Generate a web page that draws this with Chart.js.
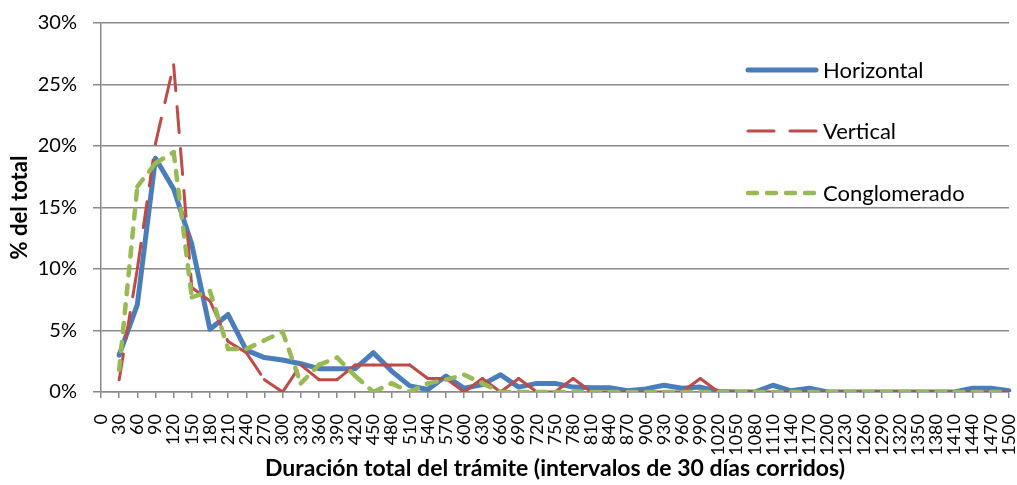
<!DOCTYPE html>
<html lang="es">
<head>
  <meta charset="UTF-8">
  <title>Duración total del trámite</title>
  <style>
    body {
      margin: 0;
      padding: 0;
      background-color: #fff;
    }
    .chart-container {
      position: relative;
      width: 1017px;
      height: 485px;
    }
  </style>
  <script src="https://cdn.jsdelivr.net/npm/chart.js"></script>
</head>
<body>
  <div class="chart-container">
    <canvas id="duration-chart"></canvas>
  </div>

  <script>
    // Chart data (% del total por intervalo de 30 días)
    const categories = ['0', '30', '60', '90', '120', '150', '180', '210', '240', '270', '300', '330', '360', '390', '420', '450', '480', '510', '540', '570', '600', '630', '660', '690', '720', '750', '780', '810', '840', '870', '900', '930', '960', '990', '1020', '1050', '1080', '1110', '1140', '1170', '1200', '1230', '1260', '1290', '1320', '1350', '1380', '1410', '1440', '1470', '1500'];

    const horizontal = [null, 3.0, 7.1, 19.0, 16.5, 12.0, 5.1, 6.3, 3.4, 2.8, 2.6, 2.3, 1.9, 1.9, 1.9, 3.2, 1.7, 0.5, 0.2, 1.3, 0.3, 0.6, 1.4, 0.4, 0.7, 0.7, 0.4, 0.35, 0.35, 0.1, 0.25, 0.55, 0.3, 0.4, 0.05, 0, 0, 0.55, 0.1, 0.3, 0, 0, 0, 0, 0, 0, 0, 0, 0.3, 0.3, 0.1];
    const vertical = [null, 1.0, 10.0, 20.2, 26.6, 8.5, 7.4, 4.1, 3.2, 1.0, 0, 2.2, 1.0, 1.0, 2.2, 2.2, 2.2, 2.2, 1.1, 1.1, 0, 1.1, 0, 1.1, 0, 0, 1.1, 0, 0, 0, 0, 0, 0, 1.1, 0, 0, 0, 0, 0, 0, 0, 0, 0, 0, 0, 0, 0, 0, 0, 0, 0];
    const conglomerado = [null, 1.8, 16.7, 18.6, 19.5, 7.7, 8.2, 3.5, 3.5, 4.2, 4.9, 0.7, 2.2, 2.8, 1.3, 0, 0.7, 0, 0.7, 1.0, 1.4, 0.7, 0, 0, 0, 0, 0, 0, 0, 0, 0, 0, 0, 0, 0, 0, 0, 0, 0, 0, 0, 0, 0, 0, 0, 0, 0, 0, 0, 0, 0];

    const yTicks = [0, 5, 10, 15, 20, 25, 30];

    const gridColor = '#8a8a8a';
    Chart.defaults.font.family = 'Lato, "Open Sans", sans-serif';
    Chart.defaults.color = '#000';

    // Excel restarts the dash pattern on every segment
    const restartDash = {
      borderDashOffset: ctx => (ctx.p0DataIndex % 2) * 0.001
    };

    // Legend drawn inside the plot, like the original
    const insideLegend = {
      id: 'insideLegend',
      afterDatasetsDraw(chart) {
        const ctx = chart.ctx;
        const rows = [70, 131, 193];
        chart.data.datasets.forEach((ds, i) => {
          const y = rows[i];
          ctx.save();
          ctx.strokeStyle = ds.borderColor;
          ctx.lineWidth = ds.borderWidth;
          ctx.lineCap = ds.borderCapStyle || 'round';
          ctx.setLineDash(ds.borderDash || []);
          ctx.beginPath();
          ctx.moveTo(748, y);
          ctx.lineTo(816, y);
          ctx.stroke();
          ctx.setLineDash([]);
          ctx.fillStyle = '#000';
          ctx.font = '22px Lato, "Open Sans", sans-serif';
          ctx.textBaseline = 'middle';
          ctx.textAlign = 'left';
          ctx.fillText(ds.label, 823, y + 1);
          ctx.restore();
        });
      }
    };

    new Chart(document.getElementById('duration-chart'), {
      type: 'line',
      data: {
        labels: categories,
        datasets: [
          {
            label: 'Horizontal',
            data: horizontal,
            borderColor: '#4a7ebb',
            borderWidth: 5,
            borderCapStyle: 'round',
            borderJoinStyle: 'round',
            pointRadius: 0,
            tension: 0,
            order: 3
          },
          {
            label: 'Vertical',
            data: vertical,
            borderColor: '#be4b48',
            borderWidth: 3,
            borderDash: [26, 16],
            borderCapStyle: 'round',
            borderJoinStyle: 'round',
            segment: restartDash,
            pointRadius: 0,
            tension: 0,
            order: 2
          },
          {
            label: 'Conglomerado',
            data: conglomerado,
            borderColor: '#98b954',
            borderWidth: 4.5,
            borderDash: [9, 10],
            borderCapStyle: 'round',
            borderJoinStyle: 'round',
            segment: restartDash,
            pointRadius: 0,
            tension: 0,
            order: 1
          }
        ]
      },
      options: {
        responsive: true,
        maintainAspectRatio: false,
        animation: false,
        devicePixelRatio: 1,
        layout: {
          padding: { top: 23, right: 8, bottom: 0, left: 0 }
        },
        plugins: {
          legend: { display: false },
          tooltip: { enabled: false }
        },
        scales: {
          x: {
            offset: false,
            grid: {
              drawOnChartArea: false,
              drawTicks: true,
              tickLength: 6,
              color: gridColor,
              lineWidth: 1.5
            },
            border: { color: gridColor, width: 1.5 },
            ticks: {
              autoSkip: false,
              minRotation: 90,
              maxRotation: 90,
              padding: 16,
              font: { size: 18 }
            },
            title: {
              display: true,
              text: 'Duración total del trámite (intervalos de 30 días corridos)',
              font: { size: 23, weight: 'bold' },
              padding: { top: 0, bottom: 3 }
            },
            afterFit(axis) {
              axis.height = 93;
              axis.paddingLeft = 0;
              axis.paddingRight = 0;
            }
          },
          y: {
            min: 0,
            max: 30,
            afterBuildTicks(axis) {
              axis.ticks = yTicks.map(v => ({ value: v }));
            },
            grid: {
              color: gridColor,
              lineWidth: 1.5,
              tickLength: 8
            },
            border: { color: gridColor, width: 1.5 },
            ticks: {
              padding: 16,
              font: { size: 20 },
              callback: v => v + '%'
            },
            title: {
              display: true,
              text: '% del total',
              font: { size: 22, weight: 'bold' },
              padding: { top: 7, bottom: 0 }
            },
            afterFit(axis) {
              axis.width = 101;
              axis.paddingTop = 0;
              axis.paddingBottom = 0;
            }
          }
        }
      },
      plugins: [insideLegend]
    });
  </script>
</body>
</html>
